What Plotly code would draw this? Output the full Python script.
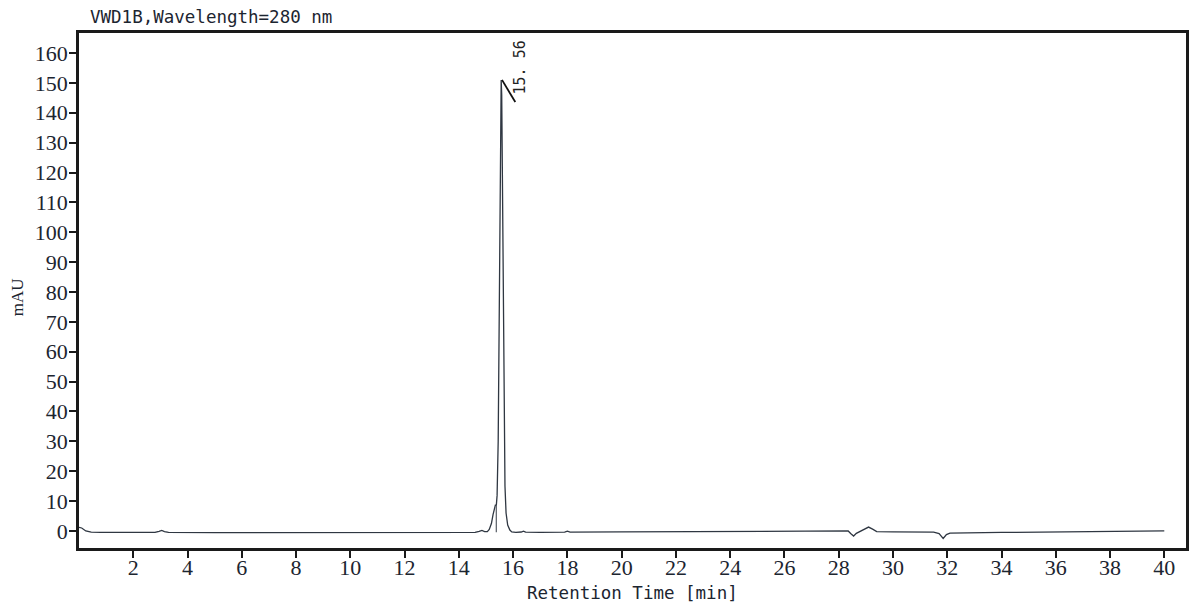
import plotly.graph_objects as go

# chromatogram trace
time_min = [0.00, 0.10, 0.25, 0.45, 0.80, 2.00, 2.80, 2.95, 3.05, 3.15, 3.30,
            5.00, 8.00, 12.00, 14.00, 14.60, 14.75, 14.85, 14.95, 15.05, 15.12,
            15.20, 15.26, 15.31, 15.35, 15.38, 15.41, 15.45, 15.49, 15.52, 15.545,
            15.56, 15.58, 15.61, 15.64, 15.67, 15.70, 15.74, 15.80, 15.88, 15.95,
            16.10, 16.30, 16.38, 16.46, 17.00, 17.90, 18.00, 18.10, 20.00, 24.00,
            27.00, 28.00, 28.35, 28.45, 28.55, 28.65, 28.80, 28.95, 29.10, 29.25,
            29.40, 30.00, 31.50, 31.70, 31.85, 31.97, 32.10, 34.00, 37.00, 40.00]
signal_mau = [1.2, 1.0, 0.0, -0.4, -0.5, -0.55, -0.5, -0.1, 0.2, -0.2, -0.45,
              -0.55, -0.55, -0.5, -0.5, -0.45, -0.1, 0.2, -0.2, -0.2, 0.5,
              2.5, 5.5, 8.0, 8.8, 8.5, 12.0, 30.0, 70.0, 115.0, 145.0,
              151.0, 146.0, 115.0, 70.0, 35.0, 15.0, 6.0, 2.0, 0.3, -0.3,
              -0.45, -0.35, -0.05, -0.4, -0.45, -0.4, -0.05, -0.4, -0.3, -0.2,
              0.0, 0.1, 0.0, -0.9, -1.7, -0.8, -0.1, 0.5, 1.3, 0.6,
              -0.2, -0.3, -0.4, -0.9, -2.5, -1.2, -0.7, -0.5, -0.2, 0.0]

# integration drop line in front of the main peak
drop_t = [15.38, 15.38]
drop_y = [-0.4, 8.5]

peak_label = "15. 56"
peak_t = 15.56
peak_h = 151.0

x_ticks = list(range(2, 41, 2))
y_ticks = list(range(0, 161, 10))

ink = "#1a1a1a"
txt = "#1c2530"

fig = go.Figure()
fig.add_trace(go.Scatter(x=time_min, y=signal_mau, mode="lines",
                         line=dict(color="#2f3742", width=1.3), showlegend=False))
fig.add_trace(go.Scatter(x=drop_t, y=drop_y, mode="lines",
                         line=dict(color="#555b63", width=1.2), showlegend=False))

# peak marker tick and retention time label
fig.add_shape(type="line", x0=peak_t + 0.03, y0=peak_h, x1=peak_t + 0.52, y1=peak_h - 7.4,
              line=dict(color="#111", width=1.8))
fig.add_annotation(x=peak_t + 0.71, y=peak_h + 4.3, text=peak_label, textangle=-90,
                   showarrow=False, font=dict(family="DejaVu Sans Mono", size=15, color="#222"))

fig.add_annotation(xref="paper", yref="paper", x=0.008, y=1.031, xanchor="left", yanchor="middle",
                   text="VWD1B,Wavelength=280 nm", showarrow=False,
                   font=dict(family="DejaVu Sans Mono", size=17.5, color=txt))
fig.add_annotation(xref="paper", yref="paper", x=0.5, y=-0.087, xanchor="center", yanchor="middle",
                   text="Retention Time [min]", showarrow=False,
                   font=dict(family="DejaVu Sans Mono", size=17.5, color=txt))
fig.add_annotation(xref="paper", yref="paper", x=-0.056, y=0.487, xanchor="center", yanchor="middle",
                   text="mAU", textangle=-90, showarrow=False,
                   font=dict(family="Liberation Serif", size=17, color=txt))

fig.update_xaxes(range=[0, 40.8], tickvals=x_ticks, ticks="outside", ticklen=7, tickwidth=2,
                 tickcolor=ink, showline=True, linecolor=ink, linewidth=2.5, mirror=True,
                 showgrid=False, zeroline=False, ticklabelstandoff=-9,
                 tickfont=dict(family="Liberation Serif", size=22, color=txt))
fig.update_yaxes(range=[-5.7, 166.7], tickvals=y_ticks, ticks="outside", ticklen=7, tickwidth=2,
                 tickcolor=ink, showline=True, linecolor=ink, linewidth=2.5, mirror=True,
                 showgrid=False, zeroline=False, ticklabelstandoff=-3,
                 tickfont=dict(family="Liberation Serif", size=22, color=txt))

# page body adds 8px, so the figure is 8px smaller to land the box where the reference has it
fig.update_layout(width=1192, height=600, margin=dict(l=71, r=14, t=25, b=60),
                  plot_bgcolor="white", paper_bgcolor="white")

fig.write_html("out.html")
